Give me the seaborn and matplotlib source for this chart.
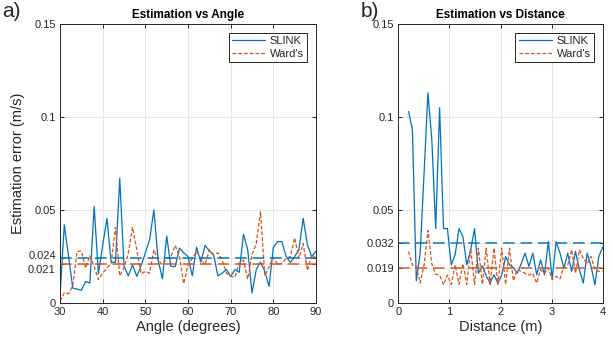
import numpy as np
import pandas as pd
import matplotlib
matplotlib.use("Agg")
import matplotlib.pyplot as plt
import matplotlib.transforms as mtransforms
import seaborn as sns

# ---- data -------------------------------------------------------------
angle_deg = list(range(30, 91))
angle_slink = [0.004, 0.042, 0.025, 0.008, 0.0075, 0.0068, 0.0116, 0.0107, 0.052, 0.0157,
               0.031, 0.0455, 0.0218, 0.022, 0.067, 0.020, 0.0146, 0.0205, 0.0143, 0.020,
               0.027, 0.034, 0.050, 0.023, 0.013, 0.036, 0.0196, 0.0196, 0.0295, 0.027,
               0.025, 0.0146, 0.030, 0.022, 0.031, 0.028, 0.026, 0.0146, 0.016, 0.018,
               0.0143, 0.018, 0.0165, 0.037, 0.0286, 0.0054, 0.018, 0.022, 0.017, 0.0089,
               0.030, 0.033, 0.033, 0.025, 0.0218, 0.025, 0.0286, 0.0455, 0.031, 0.025,
               0.028]
angle_ward = [0.001, 0.0054, 0.005, 0.0093, 0.0277, 0.028, 0.0188, 0.0254, 0.0196, 0.0125,
              0.016, 0.0188, 0.0214, 0.0407, 0.0146, 0.0188, 0.0268, 0.0407, 0.0286, 0.0157,
              0.017, 0.016, 0.0286, 0.023, 0.0205, 0.024, 0.025, 0.031, 0.025, 0.0104,
              0.0205, 0.024, 0.0277, 0.024, 0.0205, 0.0286, 0.026, 0.027, 0.023, 0.016,
              0.0143, 0.014, 0.0214, 0.023, 0.0129, 0.026, 0.032, 0.049, 0.0146, 0.0196,
              0.0246, 0.0205, 0.0214, 0.024, 0.025, 0.035, 0.024, 0.032, 0.0175, 0.026,
              0.024]
angle_mean_slink = 0.024
angle_mean_ward = 0.021

dist_m = [0.2, 0.276, 0.352, 0.428, 0.504, 0.58, 0.656, 0.732, 0.808, 0.884,
          0.96, 1.036, 1.112, 1.188, 1.264, 1.34, 1.416, 1.492, 1.568, 1.644,
          1.72, 1.796, 1.872, 1.948, 2.024, 2.1, 2.176, 2.252, 2.328, 2.404,
          2.48, 2.556, 2.632, 2.708, 2.784, 2.86, 2.936, 3.012, 3.088, 3.164,
          3.24, 3.316, 3.392, 3.468, 3.544, 3.62, 3.696, 3.772, 3.848, 3.924, 4.0]
dist_slink = [0.103, 0.093, 0.012, 0.027, 0.070, 0.113, 0.0875, 0.040, 0.105, 0.040,
              0.040, 0.0205, 0.026, 0.040, 0.0357, 0.0205, 0.0286, 0.040, 0.016, 0.020,
              0.0146, 0.0107, 0.0152, 0.0107, 0.015, 0.025, 0.0205, 0.019, 0.016, 0.021,
              0.0268, 0.0197, 0.0268, 0.0152, 0.0232, 0.0152, 0.033, 0.013, 0.033, 0.0268,
              0.0188, 0.0268, 0.017, 0.0277, 0.0179, 0.0107, 0.0268, 0.0197, 0.0098, 0.025,
              0.030]
dist_ward = [0.0277, 0.0205, 0.0196, 0.0107, 0.0205, 0.039, 0.021, 0.0155, 0.015, 0.0098,
             0.015, 0.010, 0.0205, 0.010, 0.021, 0.010, 0.0295, 0.010, 0.0295, 0.010,
             0.0295, 0.010, 0.0295, 0.010, 0.0295, 0.010, 0.0295, 0.012, 0.018, 0.017,
             0.016, 0.015, 0.016, 0.0107, 0.0179, 0.016, 0.0188, 0.0125, 0.0143, 0.013,
             0.0197, 0.0205, 0.0286, 0.016, 0.0286, 0.024, 0.021, 0.025, 0.0179, 0.017,
             0.017]
dist_mean_slink = 0.032
dist_mean_ward = 0.019

angle_xticks = [30, 40, 50, 60, 70, 80, 90]
dist_xticks = [0, 1, 2, 3, 4]

# ---- style ------------------------------------------------------------
sns.set_theme(style="ticks")
plt.rcParams["font.family"] = ["Liberation Sans", "DejaVu Sans"]
plt.rcParams["axes.edgecolor"] = "#262626"
plt.rcParams["xtick.color"] = "#262626"
plt.rcParams["ytick.color"] = "#262626"

BLUE = "#0072BD"
ORANGE = "#D95319"

fig = plt.figure(figsize=(6.13, 3.43), dpi=100)
ax1 = fig.add_axes([0.0979, 0.1166, 0.4176, 0.8134])
ax2 = fig.add_axes([0.6498, 0.1166, 0.3334, 0.8134])


def draw_panel(ax, x, slink, ward, m_slink, m_ward, xlim, xticks, title, xlabel):
    df = pd.DataFrame({"x": x, "SLINK": slink, "Ward's": ward})
    sns.lineplot(data=df, x="x", y="SLINK", ax=ax, color=BLUE, lw=0.9,
                 label="SLINK")
    sns.lineplot(data=df, x="x", y="Ward's", ax=ax, color=ORANGE, lw=0.9,
                 linestyle=(0, (3, 1.6)), label="Ward's")
    ax.axhline(m_slink, color=BLUE, lw=1.4, alpha=0.75, ls=(0, (6, 3)))
    ax.axhline(m_ward, color=ORANGE, lw=1.4, alpha=0.75, ls=(0, (6, 3)))

    ax.set_xlim(*xlim)
    ax.set_ylim(0, 0.15)
    ax.set_xticks(xticks)
    ax.set_xticklabels([str(t) for t in xticks])
    yt = sorted([0, m_ward, m_slink, 0.05, 0.1, 0.15])
    ax.set_yticks(yt)
    ax.set_yticklabels(["0" if v == 0 else f"{v:g}" for v in yt])
    ax.grid(True, color="#e6e6e6", lw=0.7)
    ax.set_axisbelow(True)
    ax.tick_params(direction="in", length=3, width=0.7, labelsize=8,
                   top=True, right=True, pad=3)
    for s in ax.spines.values():
        s.set_linewidth(0.7)
        s.set_color("#262626")
    ax.set_title(title, fontsize=8.5, fontweight="bold", pad=4, color="black")
    ax.set_xlabel(xlabel, fontsize=10.5, labelpad=2, color="#262626")
    ax.set_ylabel("")
    leg = ax.legend(loc="upper right", fontsize=8, frameon=True, fancybox=False,
                    edgecolor="#262626", framealpha=1, handlelength=3.0,
                    borderpad=0.3, labelspacing=0.25, handletextpad=0.4,
                    borderaxespad=0.8)
    leg.get_frame().set_linewidth(0.7)


draw_panel(ax1, angle_deg, angle_slink, angle_ward, angle_mean_slink, angle_mean_ward,
           (30, 90), angle_xticks, "Estimation vs Angle", "Angle (degrees)")
draw_panel(ax2, dist_m, dist_slink, dist_ward, dist_mean_slink, dist_mean_ward,
           (0, 4), dist_xticks, "Estimation vs Distance", "Distance (m)")

# the two close mean-value labels on the angle panel are nudged apart
for lab in ax1.get_yticklabels():
    txt = lab.get_text()
    if txt == "0.024":
        lab.set_transform(lab.get_transform() +
                          mtransforms.ScaledTranslation(0, 2.5 / 72, fig.dpi_scale_trans))
    elif txt == "0.021":
        lab.set_transform(lab.get_transform() +
                          mtransforms.ScaledTranslation(0, -3.5 / 72, fig.dpi_scale_trans))

ax1.set_ylabel("Estimation error (m/s)", fontsize=10.5, labelpad=2, color="#262626")

fig.text(0.003, 0.995, "a)", fontsize=15, va="top", ha="left")
fig.text(0.588, 0.995, "b)", fontsize=15, va="top", ha="left")

fig.savefig("out.png", dpi=100)
